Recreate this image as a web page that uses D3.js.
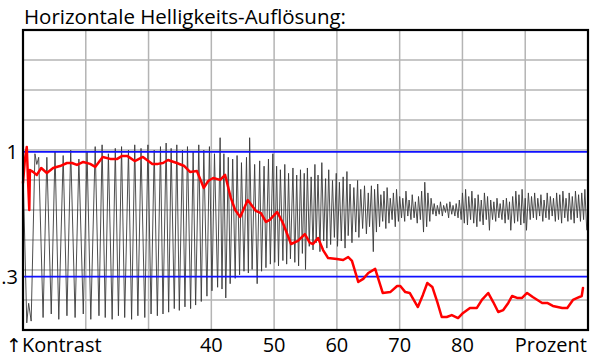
<!DOCTYPE html>
<html><head><meta charset="utf-8">
<script src="https://cdn.jsdelivr.net/npm/d3@7"></script>
<style>html,body{margin:0;padding:0;background:#fff}svg{display:block}</style>
</head><body>
<svg id="c" width="600" height="364"></svg>
<script>
// ---- data ----
const titleText = "Horizontale Helligkeits-Auflösung:";
const xTickValues = [40, 50, 60, 70, 80];
const xGridValues = [20, 30, 40, 50, 60, 70, 80, 90];
const refLevels = [1, 0.3];
const refLabels = ["1", ".3"];
const yGridCount = 10;
const xAxisUnit = "Prozent";
const yAxisArrow = "\u2191";
const yAxisName = "Kontrast";

// measured contrast curve (x = Prozent, y = Kontrast)
const contrastCurve = [
[10.0,0.826],[10.3,0.955],[10.6,1.028],[10.8,0.843],[11.0,0.674],[11.1,0.899],[11.6,0.888],[12.2,0.871],
[12.9,0.910],[13.8,0.882],[14.8,0.910],[15.9,0.921],[17.0,0.938],[17.8,0.938],[18.6,0.927],[19.6,0.944],
[20.7,0.933],[21.5,0.916],[22.7,0.972],[23.9,0.961],[25.0,0.961],[25.8,0.978],[26.6,0.978],[27.8,0.949],
[29.1,0.972],[30.6,0.933],[31.5,0.933],[32.3,0.938],[33.1,0.955],[34.5,0.938],[35.7,0.921],[36.6,0.888],
[37.7,0.893],[38.8,0.798],[39.5,0.837],[40.3,0.854],[41.4,0.843],[42.2,0.871],[43.1,0.742],[43.8,0.674],
[44.6,0.635],[45.8,0.730],[47.1,0.669],[47.9,0.657],[48.7,0.607],[49.3,0.618],[50.5,0.663],[51.4,0.601],
[52.7,0.483],[53.8,0.500],[54.9,0.539],[55.7,0.489],[56.2,0.483],[57.0,0.517],[57.8,0.449],[58.6,0.404],
[60.0,0.399],[61.0,0.393],[61.8,0.410],[62.4,0.388],[63.4,0.270],[64.2,0.287],[65.0,0.320],[66.1,0.343],
[67.3,0.208],[68.5,0.213],[69.6,0.247],[70.1,0.247],[70.9,0.213],[71.6,0.208],[72.9,0.129],[73.7,0.197],
[74.4,0.264],[75.2,0.242],[76.0,0.157],[76.7,0.073],[77.5,0.073],[78.3,0.084],[79.3,0.067],[80.1,0.096],
[81.2,0.124],[82.3,0.124],[83.1,0.169],[84.1,0.208],[84.9,0.157],[85.7,0.101],[86.5,0.112],[87.3,0.152],
[87.9,0.191],[88.7,0.180],[89.5,0.180],[90.3,0.208],[91.2,0.185],[92.7,0.152],[93.5,0.152],[94.4,0.135],
[95.9,0.124],[96.7,0.124],[97.6,0.169],[98.3,0.180],[99.0,0.191],[99.2,0.236]
];

// sweep signal: extremes of the trace (x = Prozent, y = level on the Kontrast scale)
const sweepTrace = [
[10.0,0.90],[10.6,0.04],[10.9,0.15],[11.3,0.05],[11.9,0.99],[12.2,0.93],[12.5,0.97],[13.2,0.07],[13.8,0.97],
[14.5,0.09],[15.1,1.00],[15.7,0.06],[16.4,0.98],[17.0,0.08],[17.6,1.01],[18.3,0.07],[18.9,0.96],[19.6,0.09],
[20.2,1.00],[20.8,0.06],[21.5,1.03],[22.1,0.08],
[22.6,1.04],[23.1,0.07],[23.6,0.99],[24.2,0.06],[24.7,1.02],[25.2,0.08],[25.7,1.03],[26.2,0.07],[26.8,1.01],
[27.3,0.06],[27.8,1.04],[28.3,0.08],[28.8,1.02],[29.4,0.07],[29.9,1.04],[30.4,0.09],[30.9,1.01],[31.4,0.08],
[31.9,1.03],[32.3,0.09],[32.8,1.05],[33.2,0.10],[33.6,1.02],[34.1,0.12],[34.5,1.04],[34.9,0.11],[35.4,1.01],
[35.8,0.13],[36.2,1.03],[36.7,0.12],[37.1,1.00],[37.5,0.14],[38.0,1.04],[38.4,0.16],[38.8,1.01],[39.3,0.19],
[39.7,1.03],[40.1,0.22],[40.5,0.99],[41.0,0.24],
[41.4,1.08],[41.7,0.23],[42.0,0.99],[42.3,0.18],[42.7,0.97],[43.0,0.26],[43.4,0.96],[43.8,0.29],[44.1,0.98],
[44.5,0.31],[44.8,0.94],[45.2,0.33],[45.6,0.97],[45.9,0.32],[46.1,1.08],[46.5,0.34],[46.9,0.93],[47.3,0.26],
[47.7,0.95],[48.0,0.33],[48.4,0.92],[48.7,0.35],[49.1,0.96],
[49.4,0.37],[49.8,0.99],[50.1,0.38],[50.4,0.92],[50.7,0.36],[51.0,0.90],[51.4,0.39],[51.7,0.93],[52.0,0.37],
[52.3,0.88],[52.6,0.40],[53.0,0.91],[53.3,0.38],[53.6,0.87],[53.9,0.36],
[54.2,0.90],[54.5,0.43],[54.8,0.88],[55.0,0.34],[55.3,0.91],[55.6,0.47],[55.9,0.86],[56.2,0.45],[56.5,0.93],
[56.7,0.49],[57.0,0.87],[57.3,0.44],[57.6,0.94],[57.9,0.50],[58.2,0.85],[58.4,0.46],[58.7,0.90],[59.0,0.48],
[59.3,0.84],[59.6,0.52],[59.9,0.88],[60.1,0.47],[60.4,0.83],[60.7,0.50],[61.0,0.86],[61.3,0.46],[61.6,0.89],
[61.8,0.53],[62.1,0.82],[62.4,0.49],[62.7,0.80],[63.0,0.55],[63.3,0.84],[63.5,0.52],[63.8,0.79],[64.1,0.57],
[64.4,0.81],[64.7,0.54],[65.0,0.77],[65.2,0.58],
[65.5,0.81],[65.8,0.44],[66.0,0.79],[66.3,0.55],[66.5,0.82],[66.8,0.58],[67.0,0.76],[67.3,0.61],[67.5,0.78],
[67.8,0.57],[68.0,0.80],[68.3,0.60],[68.5,0.74],[68.8,0.62],[69.0,0.77],[69.3,0.58],[69.5,0.79],[69.8,0.61],
[70.0,0.75],[70.3,0.63],[70.5,0.74],[70.8,0.61],[71.0,0.78],[71.3,0.64],[71.5,0.73],[71.8,0.62],[72.0,0.76],
[72.3,0.63],[72.5,0.72],[72.8,0.60],[73.0,0.75],[73.3,0.62],[73.5,0.78],[73.8,0.55],[74.0,0.83],[74.3,0.58],
[74.5,0.77],[74.8,0.61],[75.0,0.74],[75.3,0.65],[75.5,0.71],[75.8,0.64],[76.0,0.70],[76.3,0.65],[76.5,0.72],
[76.8,0.64],[77.0,0.70],[77.3,0.66],[77.5,0.71],[77.8,0.63],[78.0,0.72],[78.3,0.65],[78.5,0.70],[78.8,0.64],
[79.0,0.71],[79.3,0.63],[79.5,0.73],[79.8,0.62],[80.0,0.77],[80.3,0.60],[80.5,0.79],[80.8,0.59],[81.0,0.75],
[81.3,0.62],[81.5,0.78],[81.8,0.60],[82.0,0.74],[82.3,0.58],[82.5,0.76],[82.8,0.61],[83.0,0.73],[83.3,0.59],
[83.5,0.77],[83.8,0.62],[84.0,0.75],[84.3,0.56],[84.5,0.73],[84.8,0.62],[85.0,0.72],[85.3,0.61],[85.5,0.74],
[85.8,0.63],[86.0,0.71],[86.3,0.62],[86.5,0.73],[86.8,0.60],[87.0,0.74],[87.3,0.62],[87.5,0.72],[87.7,0.56],
[88.0,0.75],[88.3,0.60],[88.5,0.78],[88.8,0.61],[89.0,0.76],[89.3,0.59],[89.5,0.79],[89.8,0.60],[90.0,0.74],
[90.2,0.56],[90.5,0.77],[90.8,0.62],[91.0,0.75],[91.3,0.63],[91.5,0.77],[91.8,0.62],[92.0,0.74],[92.3,0.64],
[92.5,0.76],[92.8,0.61],[93.0,0.73],[93.3,0.63],[93.5,0.77],[93.8,0.62],[94.0,0.75],[94.3,0.64],[94.5,0.74],
[94.8,0.61],[95.0,0.77],[95.3,0.62],[95.5,0.76],[95.8,0.60],[96.0,0.78],[96.3,0.63],[96.5,0.74],[96.8,0.61],
[97.0,0.77],[97.3,0.62],[97.5,0.75],[97.8,0.60],[98.0,0.78],[98.3,0.63],[98.5,0.76],[98.8,0.61],[99.0,0.77],
[99.3,0.62],[99.5,0.79],[99.8,0.56]
];

// ---- layout ----
const W = 600, H = 364;
const plot = {left: 23, top: 30, right: 588, bottom: 330};
const FONT = "'Open Sans', 'Noto Sans', sans-serif";

const svg = d3.select("#c");
const x = d3.scaleLinear().domain([10, 100]).range([plot.left, plot.right]);
const yMax = 1.685;
const y = d3.scaleLinear().domain([0, yMax]).range([plot.bottom, plot.top]);

svg.append("rect").attr("width", W).attr("height", H).attr("fill", "#fff");

// grid
const yGrid = d3.range(1, yGridCount).map(i => i * yMax / yGridCount);
const g = svg.append("g");
g.selectAll("line.v").data(xGridValues).join("line")
  .attr("x1", d => x(d)).attr("x2", d => x(d))
  .attr("y1", plot.top).attr("y2", plot.bottom)
  .attr("stroke", "#b4b4b4").attr("stroke-width", 1.5);
g.selectAll("line.h").data(yGrid).join("line")
  .attr("x1", plot.left).attr("x2", plot.right)
  .attr("y1", d => y(d)).attr("y2", d => y(d))
  .attr("stroke", "#b4b4b4").attr("stroke-width", 1.5);

// sweep trace
const line = d3.line().x(d => x(d[0])).y(d => y(d[1]));
svg.append("path").datum(sweepTrace).attr("d", line)
  .attr("fill", "none").attr("stroke", "#3a3a3a").attr("stroke-width", 0.9)
  .attr("stroke-linejoin", "miter");

// reference levels
svg.selectAll("line.ref").data(refLevels).join("line")
  .attr("x1", plot.left).attr("x2", plot.right)
  .attr("y1", d => y(d)).attr("y2", d => y(d))
  .attr("stroke", "#1010ff").attr("stroke-width", 1.8);

// contrast curve
svg.append("path").datum(contrastCurve).attr("d", line)
  .attr("fill", "none").attr("stroke", "#ff0000").attr("stroke-width", 2.5)
  .attr("stroke-linejoin", "round").attr("stroke-linecap", "round");

// frame
svg.append("rect").attr("x", plot.left).attr("y", plot.top)
  .attr("width", plot.right - plot.left).attr("height", plot.bottom - plot.top)
  .attr("fill", "none").attr("stroke", "#000").attr("stroke-width", 2.2);

// texts
svg.append("text").attr("x", 24).attr("y", 24).text(titleText)
  .attr("font-family", FONT).attr("font-size", 20.5).attr("fill", "#000");

svg.selectAll("text.yl").data(refLevels).join("text")
  .attr("x", 18).attr("y", d => y(d) + 7.5)
  .attr("text-anchor", "end").attr("font-family", FONT).attr("font-size", 20)
  .text((d, i) => refLabels[i]);

svg.selectAll("text.xl").data(xTickValues).join("text")
  .attr("x", d => x(d)).attr("y", 352)
  .attr("text-anchor", "middle").attr("font-family", FONT).attr("font-size", 20)
  .text(d => d);

svg.append("text").attr("x", 587).attr("y", 352).attr("text-anchor", "end")
  .attr("font-family", FONT).attr("font-size", 20).text(xAxisUnit);

const yt = svg.append("text").attr("x", 6).attr("y", 352)
  .attr("font-family", FONT).attr("font-size", 20);
yt.append("tspan").attr("font-family", "'DejaVu Sans', sans-serif").attr("font-size", 19)
  .text(yAxisArrow);
yt.append("tspan").attr("dx", 0).text(yAxisName);
</script>
</body></html>
